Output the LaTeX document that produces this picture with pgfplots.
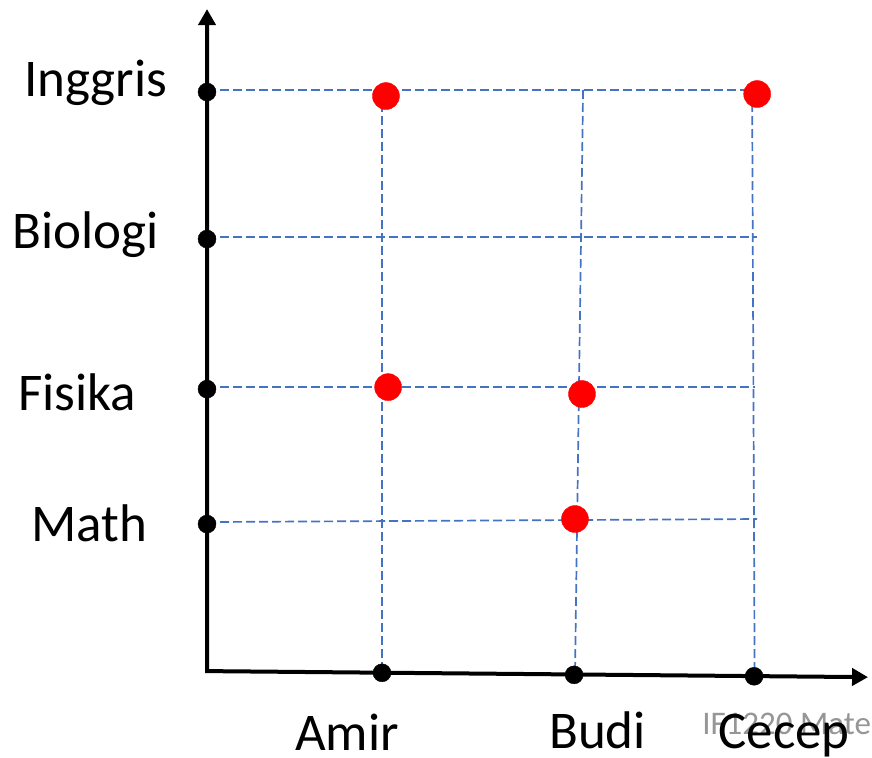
\documentclass[border=0pt]{standalone}
\usepackage{pgfplots}
\pgfplotsset{compat=1.18}
\usepackage{fontspec}
\setmainfont{Carlito}
\usetikzlibrary{arrows.meta}
\definecolor{gridblue}{RGB}{68,114,196}
\definecolor{graytext}{RGB}{150,150,150}
\begin{document}
\begin{tikzpicture}
\begin{axis}[
  name=ax,
  hide axis,
  x=180pt, y=144pt,
  xmin=-1.15, xmax=3.694,
  ymin=-0.597, ymax=4.66,
  clip=false,
]
% dashed guide lines (horizontal: subjects)
\addplot[gridblue, line width=1.7pt, dash pattern=on 9pt off 4pt] coordinates {(0,4.035) (3.0,4.035)};
\addplot[gridblue, line width=1.7pt, dash pattern=on 9pt off 4pt] coordinates {(0,3.014) (3.056,3.014)};
\addplot[gridblue, line width=1.7pt, dash pattern=on 9pt off 4pt] coordinates {(0,1.972) (3.044,1.972)};
\addplot[gridblue, line width=1.7pt, dash pattern=on 9pt off 4pt] coordinates {(0,1.035) (3.056,1.056)};
% dashed guide lines (vertical: students)
\addplot[gridblue, line width=1.7pt, dash pattern=on 9pt off 4pt] coordinates {(0.972,4.035) (0.972,-0.014)};
\addplot[gridblue, line width=1.7pt, dash pattern=on 9pt off 4pt] coordinates {(2.089,4.035) (2.044,-0.035)};
\addplot[gridblue, line width=1.7pt, dash pattern=on 9pt off 4pt] coordinates {(3.028,4.035) (3.042,-0.035)};
% axes
\addplot[black, line width=4pt, line join=miter,
  {Triangle[width=17pt,length=16pt]}-{Triangle[width=17pt,length=16pt]}]
  coordinates {(0,4.597) (0,0) (3.672,-0.042)};
% tick dots
\addplot[only marks, mark=*, mark size=9pt, black] coordinates {
  (0,4.021) (0,3.0) (0,1.958) (0,1.021)
  (0.972,-0.012) (2.039,-0.026) (3.039,-0.036)};
% relation points
\addplot[only marks, mark=*, mark size=13.5pt, red] coordinates {
  (0.994,3.993) (3.056,4.007) (1.006,1.972) (2.083,1.924) (2.044,1.056)};
% labels
\node[graytext, anchor=base west, inner sep=0pt, font=\fontsize{33}{36}\selectfont] at (axis cs:2.75,-0.4375) {IF1220 Materi};
\node[anchor=base west, inner sep=0pt, font=\fontsize{53}{60}\selectfont] at (axis cs:-1.017,3.993) {Inggris};
\node[anchor=base west, inner sep=0pt, font=\fontsize{53}{60}\selectfont] at (axis cs:-1.083,2.9375) {Biologi};
\node[anchor=base west, inner sep=0pt, font=\fontsize{53}{60}\selectfont] at (axis cs:-1.05,1.8125) {Fisika};
\node[anchor=base west, inner sep=0pt, font=\fontsize{53}{60}\selectfont] at (axis cs:-0.978,0.903) {Math};
\node[anchor=base west, inner sep=0pt, font=\fontsize{53}{60}\selectfont] at (axis cs:0.489,-0.549) {Amir};
\node[anchor=base west, inner sep=0pt, font=\fontsize{53}{60}\selectfont] at (axis cs:1.9,-0.535) {Budi};
\node[anchor=base west, inner sep=0pt, font=\fontsize{53}{60}\selectfont] at (axis cs:2.84,-0.535) {Cecep};
\end{axis}
\pgfresetboundingbox
\path[use as bounding box] (ax.south west) rectangle (ax.north east);
\end{tikzpicture}
\end{document}
